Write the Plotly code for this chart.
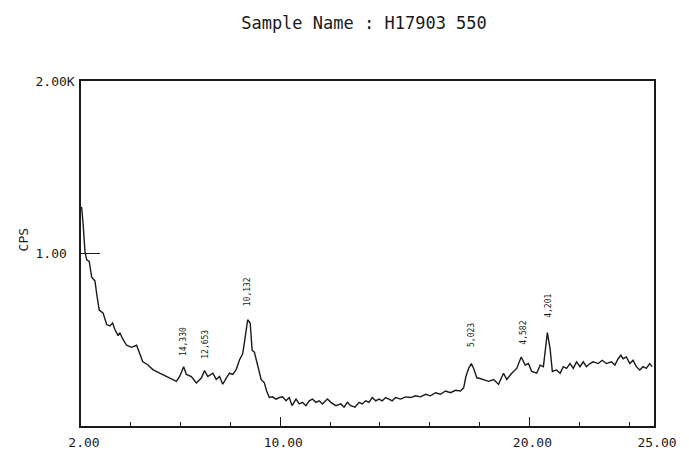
import plotly.graph_objects as go

# XRD scan: 2-theta (deg) vs counts per second
two_theta = [2.00, 2.03, 2.09, 2.16, 2.23, 2.33, 2.43, 2.56, 2.63, 2.73, 2.89, 3.03, 3.16, 3.27, 3.36,
             3.49, 3.56, 3.68, 3.83, 4.03, 4.23, 4.36, 4.48, 4.68, 4.88, 5.16, 5.43, 5.68, 5.83, 5.96,
             6.12, 6.23, 6.43, 6.63, 6.83, 6.96, 7.09, 7.29, 7.43, 7.56, 7.69, 7.83, 7.96, 8.09, 8.23,
             8.36, 8.49, 8.60, 8.69, 8.79, 8.87, 8.96, 9.09, 9.23, 9.36, 9.45, 9.56, 9.69, 9.83, 9.96,
             10.09, 10.23, 10.36, 10.47, 10.63, 10.76, 10.89, 11.03, 11.16, 11.29, 11.43, 11.56, 11.69,
             11.89, 12.03, 12.23, 12.43, 12.56, 12.69, 12.83, 13.00, 13.16, 13.29, 13.43, 13.56, 13.69,
             13.83, 13.96, 14.09, 14.23, 14.36, 14.49, 14.63, 14.83, 15.03, 15.23, 15.43, 15.63, 15.83,
             16.03, 16.23, 16.43, 16.63, 16.83, 17.03, 17.23, 17.36, 17.45, 17.56, 17.67, 17.76, 17.89,
             17.96, 18.16, 18.36, 18.56, 18.76, 18.96, 19.09, 19.29, 19.49, 19.67, 19.83, 19.96, 20.09,
             20.29, 20.43, 20.56, 20.72, 20.83, 20.92, 21.09, 21.23, 21.36, 21.49, 21.63, 21.76, 21.89,
             22.03, 22.16, 22.29, 22.43, 22.56, 22.76, 22.92, 23.09, 23.29, 23.43, 23.56, 23.67, 23.76,
             23.89, 24.03, 24.16, 24.29, 24.43, 24.56, 24.69, 24.83, 24.93]
cps = [1270, 1264, 1161, 1010, 963, 954, 862, 841, 766, 672, 654, 588, 580, 597, 559,
       524, 541, 503, 468, 456, 468, 419, 372, 355, 327, 306, 287, 270, 259, 287,
       344, 299, 287, 250, 278, 321, 287, 306, 270, 287, 242, 278, 306, 299, 327,
       383, 419, 524, 616, 597, 439, 428, 355, 270, 250, 203, 165, 169, 156, 165,
       169, 146, 165, 118, 156, 128, 137, 118, 146, 156, 137, 146, 128,
       156, 137, 118, 128, 109, 137, 118, 109, 137, 128, 146, 137, 165,
       146, 156, 146, 165, 156, 146, 165, 156, 169, 165, 175, 169, 184,
       175, 193, 184, 203, 193, 207, 203, 221, 287, 334, 362, 334, 278,
       278, 269, 259, 269, 242, 306, 270, 306, 334, 400, 353, 362, 316,
       306, 353, 344, 541, 447, 316, 325, 306, 344, 334, 362, 334, 372,
       344, 372, 344, 362, 372, 362, 381, 362, 372, 353, 390, 410, 390,
       400, 362, 381, 344, 325, 344, 334, 362, 344]

# peak d-spacing labels
peak_labels = ["14,330", "12,653", "10,132", "5,023", "4,582", "4,201"]
peak_two_theta = [6.12, 6.99, 8.68, 17.67, 19.78, 20.76]
peak_label_cps = [490, 473, 778, 530, 541, 699]

x_tick_vals = [2, 10, 20, 25]
x_tick_text = ["2.00", "10.00", "20.00", "25.00"]
x_minor_vals = [4, 6, 8, 12, 14, 16, 18, 22, 24]
y_tick_vals = [1000, 2000]
y_tick_text = ["1.00\u00a0", "2.00K"]

FONT = "DejaVu Sans Mono"
INK = "#1a1a1a"

fig = go.Figure()
fig.add_trace(go.Scatter(x=two_theta, y=cps, mode="lines",
                         line=dict(color=INK, width=1.4), hoverinfo="skip", showlegend=False))

for lab, xv, yv in zip(peak_labels, peak_two_theta, peak_label_cps):
    fig.add_annotation(x=xv, y=yv, text=lab, showarrow=False, textangle=-90,
                       xanchor="center", yanchor="middle",
                       font=dict(family=FONT, size=8, color=INK))

fig.add_annotation(text="CPS", xref="paper", yref="paper", x=-0.1, y=0.54,
                   xanchor="center", yanchor="middle", textangle=-90, showarrow=False,
                   font=dict(family=FONT, size=13, color=INK))

fig.update_layout(
    width=689, height=462,
    margin=dict(l=81, r=33, t=81, b=26),
    paper_bgcolor="white", plot_bgcolor="white",
    title=dict(text="Sample Name : H17903 550", x=364 / 689, xanchor="center",
               y=1 - 23 / 462, yanchor="middle",
               font=dict(family=FONT, size=17, color=INK)),
    font=dict(family=FONT, color=INK),
    xaxis=dict(range=[2, 25], showgrid=False, zeroline=False,
               showline=True, linecolor=INK, linewidth=1.5, mirror=True,
               tickmode="array", tickvals=x_tick_vals, ticktext=x_tick_text,
               ticks="inside", ticklen=9, tickwidth=1.2, tickcolor=INK,
               ticklabelshift=3, ticklabelstandoff=4,
               tickfont=dict(family=FONT, size=13, color=INK),
               minor=dict(tickvals=x_minor_vals, ticks="inside", ticklen=4,
                          tickwidth=1.2, tickcolor=INK)),
    yaxis=dict(range=[0, 2000], showgrid=False, zeroline=False,
               showline=True, linecolor=INK, linewidth=1.5, mirror=True,
               tickmode="array", tickvals=y_tick_vals, ticktext=y_tick_text,
               ticks="inside", ticklen=19, tickwidth=1.2, tickcolor=INK,
               ticklabelstandoff=2,
               tickfont=dict(family=FONT, size=13, color=INK)),
)

fig.write_html("out.html")
